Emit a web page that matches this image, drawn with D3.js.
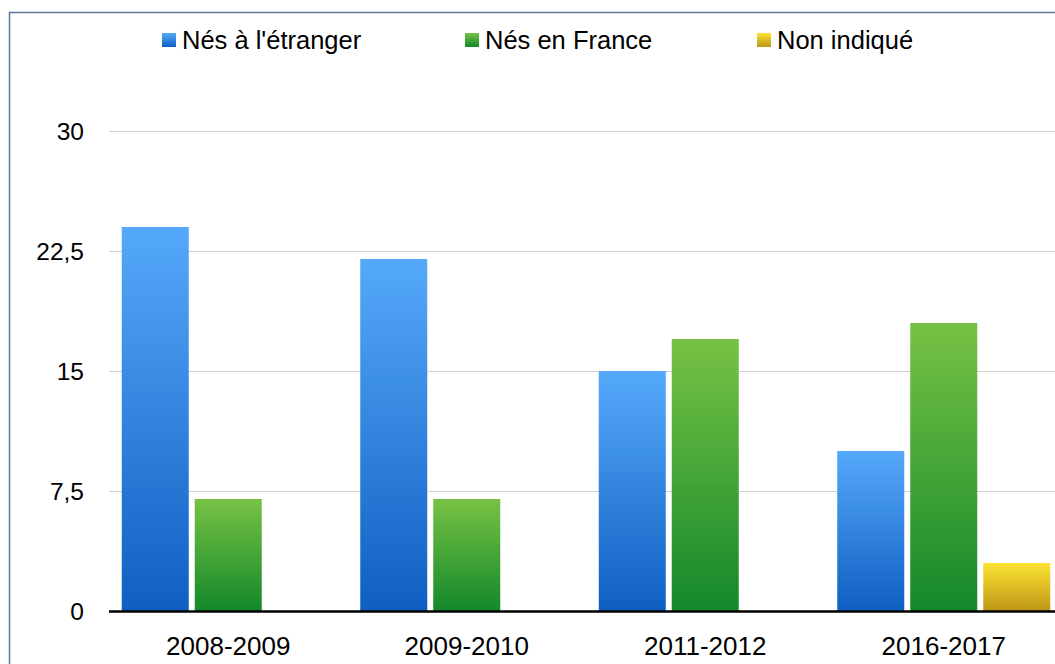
<!DOCTYPE html>
<html>
<head>
<meta charset="utf-8">
<script src="https://cdn.jsdelivr.net/npm/d3@7"></script>
<style>
  body { margin: 0; background: #fff; }
  text { font-family: "Liberation Sans", Arial, sans-serif; fill: #000; }
</style>
</head>
<body>
<svg width="1055" height="664"></svg>
<script>
const categories = ["2008-2009", "2009-2010", "2011-2012", "2016-2017"];
const series = ["Nés à l'étranger", "Nés en France", "Non indiqué"];
const etranger = [24, 22, 15, 10];
const france = [7, 7, 17, 18];
const nonIndique = [null, null, null, 3];
const yTicks = [0, 7.5, 15, 22.5, 30];

const values = [etranger, france, nonIndique];
const gradients = [
    ["#55a9fa", "#0f5fc2"],
    ["#77c244", "#13882b"],
    ["#fbe331", "#bf9719"],
];

const svg = d3.select("svg");

// cadre
svg.append("rect")
    .attr("x", 9.5)
    .attr("y", 12.5)
    .attr("width", 1100)
    .attr("height", 700)
    .attr("fill", "none")
    .attr("stroke", "#5b7a9b")
    .attr("stroke-width", 1.5);

const defs = svg.append("defs");
gradients.forEach((c, i) => {
    const lg = defs.append("linearGradient")
        .attr("id", "grad" + i)
        .attr("x1", 0).attr("y1", 0)
        .attr("x2", 0).attr("y2", 1);
    lg.append("stop").attr("offset", "0%").attr("stop-color", c[0]);
    lg.append("stop").attr("offset", "100%").attr("stop-color", c[1]);
});

const xScale = d3.scaleBand()
    .domain(categories)
    .range([109, 1063])
    .paddingInner(0)
    .paddingOuter(0);

const inner = d3.scaleBand()
    .domain(d3.range(series.length))
    .range([12.75, xScale.bandwidth() - 12.75])
    .paddingInner(0.082);

const yScale = d3.scaleLinear()
    .domain([0, 30])
    .range([611, 131]);

const fmt = d => String(d).replace(".", ",");

// grille
svg.append("g")
    .selectAll("line")
    .data(yTicks.filter(d => d > 0))
    .join("line")
    .attr("x1", 109)
    .attr("x2", 1055)
    .attr("y1", d => Math.round(yScale(d)) + 0.5)
    .attr("y2", d => Math.round(yScale(d)) + 0.5)
    .attr("stroke", "#d2d2d2")
    .attr("stroke-width", 1);

// axe y
svg.append("g")
    .selectAll("text")
    .data(yTicks)
    .join("text")
    .attr("x", 84)
    .attr("y", d => yScale(d))
    .attr("dy", "0.35em")
    .attr("text-anchor", "end")
    .attr("font-size", 24.5)
    .text(fmt);

// barres
series.forEach((s, i) => {
    const rows = categories.map((c, j) => ({ c: c, v: values[i][j] }))
        .filter(d => d.v != null);
    svg.append("g")
        .selectAll("rect")
        .data(rows)
        .join("rect")
        .attr("x", d => xScale(d.c) + inner(i))
        .attr("width", inner.bandwidth())
        .attr("y", d => yScale(d.v))
        .attr("height", d => yScale(0) - yScale(d.v))
        .attr("fill", `url(#grad${i})`);
});

// axe x
svg.append("line")
    .attr("x1", 109)
    .attr("x2", 1055)
    .attr("y1", yScale(0) + 0.5)
    .attr("y2", yScale(0) + 0.5)
    .attr("stroke", "#000")
    .attr("stroke-width", 2.5);

svg.append("g")
    .selectAll("text")
    .data(categories)
    .join("text")
    .attr("x", d => xScale(d) + xScale.bandwidth() / 2)
    .attr("y", 655)
    .attr("text-anchor", "middle")
    .attr("font-size", 26)
    .text(d => d);

// légende
const legendX = [162, 465, 757];
const legend = svg.append("g");
series.forEach((s, i) => {
    legend.append("rect")
        .attr("x", legendX[i])
        .attr("y", 33)
        .attr("width", 14)
        .attr("height", 14)
        .attr("fill", `url(#grad${i})`);
    legend.append("text")
        .attr("x", legendX[i] + 20)
        .attr("y", 48.5)
        .attr("font-size", 25.5)
        .text(s);
});
</script>
</body>
</html>
